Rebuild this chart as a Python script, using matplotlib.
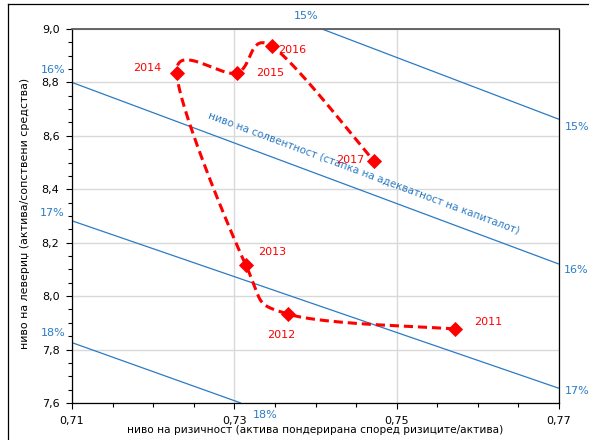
import numpy as np
import matplotlib
matplotlib.use("Agg")
import matplotlib.pyplot as plt
from matplotlib.ticker import FixedLocator, MultipleLocator, FuncFormatter
from matplotlib.lines import Line2D

# Bank-system path: risk density (RWA / assets) vs leverage (assets / own funds)
years = ["2011", "2012", "2013", "2014", "2015", "2016", "2017"]
risk_density = [0.7572, 0.7366, 0.7314, 0.7229, 0.7303, 0.7346, 0.7472]
leverage = [7.877, 7.933, 8.117, 8.835, 8.835, 8.936, 8.506]

# offsets (points) of the year labels from their markers
year_offsets = [(24, 5), (-5, -15), (19, 9), (-21, 4), (24, 0), (15, -3), (-17, 1)]

# iso capital-adequacy lines (visible segments)
iso_names = ["15%", "16%", "17%", "18%"]
iso_x = [[0.7408, 0.77], [0.71, 0.77], [0.71, 0.77], [0.71, 0.7308]]
iso_y = [[9.0, 8.662], [8.80, 8.12], [8.282, 7.655], [7.826, 7.60]]

# label positions (axes fraction) for the iso-lines
iso_label_pos = [
    ("15%", 0.4805, 1.035, "center"),
    ("16%", -0.014, 0.890, "right"),
    ("17%", -0.016, 0.508, "right"),
    ("18%", -0.014, 0.187, "right"),
    ("15%", 1.012, 0.738, "left"),
    ("16%", 1.010, 0.356, "left"),
    ("17%", 1.012, 0.032, "left"),
    ("18%", 0.371, -0.032, "left"),
]

BLUE = "#2b7bc4"
RED = "#ff0000"

fig = plt.figure(figsize=(5.89, 4.40), dpi=100)
ax = fig.add_axes([72 / 589, 1 - 403 / 440, 487 / 589, 374 / 440])

ax.set_xlim(0.71, 0.77)
ax.set_ylim(7.6, 9.0)

ax.xaxis.set_major_locator(FixedLocator([0.71, 0.73, 0.75, 0.77]))
ax.xaxis.set_minor_locator(MultipleLocator(0.005))
ax.yaxis.set_major_locator(MultipleLocator(0.2))
ax.yaxis.set_minor_locator(MultipleLocator(0.05))
ax.xaxis.set_major_formatter(FuncFormatter(lambda v, p: f"{v:.2f}".replace(".", ",")))
ax.yaxis.set_major_formatter(FuncFormatter(lambda v, p: f"{v:.1f}".replace(".", ",")))

ax.grid(True, which="major", color="#d9d9d9", lw=1.0, zorder=0)
ax.set_axisbelow(True)
ax.tick_params(which="major", direction="out", length=4, width=0.8, labelsize=8,
               colors="#000000", pad=5)
ax.tick_params(which="minor", direction="out", length=3, width=0.8)
for side in ("left", "bottom", "right"):
    ax.spines[side].set_color("#000000")
    ax.spines[side].set_linewidth(0.9)
ax.spines["top"].set_color("#595959")
ax.spines["top"].set_linewidth(1.3)

# iso capital-adequacy lines
for xs, ys in zip(iso_x, iso_y):
    ax.plot(xs, ys, color=BLUE, lw=0.9, zorder=2, solid_capstyle="butt")

for txt, fx, fy, ha in iso_label_pos:
    ax.text(fx, fy, txt, transform=ax.transAxes, ha=ha, va="center",
            fontsize=8, color=BLUE, clip_on=False)

ax.text(0.7459, 8.461, "ниво на солвентност (стапка на адекватност на капиталот)",
        rotation=-20.5, rotation_mode="anchor", ha="center", va="center",
        fontsize=7.5, color=BLUE, zorder=3)


def smooth_path(axes, xs, ys, n=40):
    """Cardinal (Catmull-Rom) spline through the points, built in display space."""
    pts = axes.transData.transform(np.column_stack([xs, ys]))
    P = np.vstack([pts[0], pts, pts[-1]])
    t = np.linspace(0, 1, n)[:, None]
    segs = []
    for i in range(1, len(P) - 2):
        p0, p1, p2, p3 = P[i - 1], P[i], P[i + 1], P[i + 2]
        c1 = p1 + (p2 - p0) / 6
        c2 = p2 - (p3 - p1) / 6
        seg = ((1 - t) ** 3) * p1 + 3 * ((1 - t) ** 2) * t * c1 \
            + 3 * (1 - t) * t ** 2 * c2 + t ** 3 * p2
        segs.append(seg if i == 1 else seg[1:])
    return axes.transData.inverted().transform(np.vstack(segs))


curve = smooth_path(ax, risk_density, leverage)
ax.plot(curve[:, 0], curve[:, 1], color=RED, lw=2.2, ls=(0, (3, 1.6)), zorder=4)
ax.plot(risk_density, leverage, ls="none", marker="D", ms=7.5, color=RED,
        mec=RED, mew=0.6, zorder=5)

for yr, xv, yv, off in zip(years, risk_density, leverage, year_offsets):
    ax.annotate(yr, (xv, yv), xytext=off, textcoords="offset points",
                ha="center", va="center", fontsize=8, color=RED, zorder=6)

ax.set_xlabel("ниво на ризичност (актива пондерирана според ризиците/актива)", fontsize=7.6)
ax.xaxis.set_label_coords(0.5, -0.058)
ax.set_ylabel("ниво на левериџ (актива/сопствени средства)", fontsize=7.9)
ax.yaxis.set_label_coords(-0.086, 0.507)

# outer chart frame
fig.add_artist(Line2D([8 / 589, 1.0], [1 - 4 / 440, 1 - 4 / 440], color="#000000", lw=0.9,
                      transform=fig.transFigure))
fig.add_artist(Line2D([8 / 589, 8 / 589], [0.0, 1 - 4 / 440], color="#000000", lw=0.9,
                      transform=fig.transFigure))

fig.savefig("out.png", dpi=100)
